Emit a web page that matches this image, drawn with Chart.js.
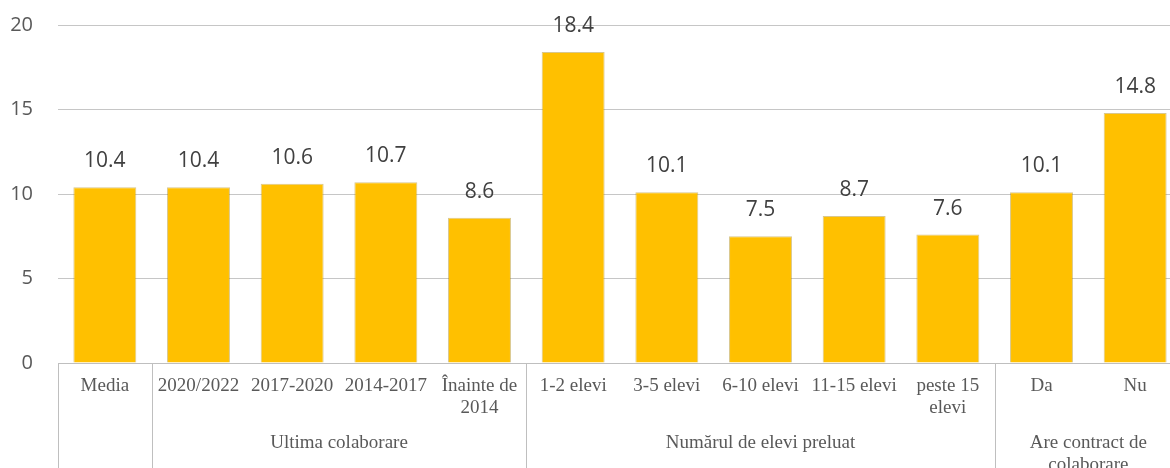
<!DOCTYPE html>
<html>
<head>
<meta charset="utf-8">
<script src="https://cdn.jsdelivr.net/npm/chart.js@4.4.0/dist/chart.umd.min.js"></script>
<style>
html,body{margin:0;padding:0;background:#fff;overflow:hidden;}
#wrap{position:relative;width:1190px;height:468px;}
</style>
</head>
<body>
<div id="wrap"><canvas id="c" width="1190" height="468"></canvas></div>
<script>
const categories = ['Media','2020/2022','2017-2020','2014-2017',['Înainte de','2014'],'1-2 elevi','3-5 elevi','6-10 elevi','11-15 elevi',['peste 15','elevi'],'Da','Nu'];
const values = [10.4, 10.4, 10.6, 10.7, 8.6, 18.4, 10.1, 7.5, 8.7, 7.6, 10.1, 14.8];
const groups = [
  {label: [], start: 0, end: 0},
  {label: ['Ultima colaborare'], start: 1, end: 4},
  {label: ['Numărul de elevi preluat'], start: 5, end: 9},
  {label: ['Are contract de','colaborare'], start: 10, end: 11}
];
const yTicks = [0, 5, 10, 15, 20];

const serif = '"Liberation Serif", "Times New Roman", serif';
const sans = '"Open Sans", "Noto Sans", sans-serif';

const groupPlugin = {
  id: 'groups',
  afterDraw(chart) {
    const ctx = chart.ctx;
    const x = chart.scales.x;
    const area = chart.chartArea;
    const half = (x.getPixelForValue(1) - x.getPixelForValue(0)) / 2;
    ctx.save();
    ctx.strokeStyle = '#bfbfbf';
    ctx.lineWidth = 1;
    groups.forEach(g => {
      const bx = Math.round(x.getPixelForValue(g.start) - half) + 0.5;
      ctx.beginPath();
      ctx.moveTo(bx, area.bottom);
      ctx.lineTo(bx, chart.height);
      ctx.stroke();
    });
    ctx.fillStyle = '#595959';
    ctx.font = '19px ' + serif;
    ctx.textAlign = 'center';
    ctx.textBaseline = 'middle';
    groups.forEach(g => {
      const l = x.getPixelForValue(g.start) - half;
      const r = x.getPixelForValue(g.end) + half;
      const cx = (l + r) / 2;
      g.label.forEach((t, i) => {
        ctx.fillText(t, cx, 443 + i * 22);
      });
    });
    ctx.restore();
  }
};

const dataLabelPlugin = {
  id: 'dlabels',
  afterDatasetsDraw(chart) {
    const ctx = chart.ctx;
    const meta = chart.getDatasetMeta(0);
    ctx.save();
    ctx.fillStyle = '#404040';
    ctx.font = '21px ' + sans;
    ctx.textAlign = 'center';
    ctx.textBaseline = 'middle';
    meta.data.forEach((bar, i) => {
      ctx.fillText(values[i].toFixed(1), bar.x, bar.y - 26);
    });
    ctx.restore();
  }
};

new Chart(document.getElementById('c'), {
  type: 'bar',
  data: {
    labels: categories,
    datasets: [{
      data: values,
      backgroundColor: '#FFC000',
      borderColor: 'rgba(170,130,0,0.45)',
      borderWidth: 1,
      barPercentage: 0.672,
      categoryPercentage: 1
    }]
  },
  options: {
    responsive: false,
    animation: false,
    events: [],
    layout: { padding: { top: 25, right: 8, left: 0, bottom: 0 } },
    plugins: { legend: { display: false }, tooltip: { enabled: false } },
    scales: {
      x: {
        grid: { display: false, drawTicks: false },
        border: { display: true, color: '#bfbfbf' },
        ticks: {
          autoSkip: false, maxRotation: 0, minRotation: 0,
          color: '#595959',
          font: { family: serif, size: 19, lineHeight: 1.16 },
          padding: 12
        },
        afterFit(s) { s.height = 105; s.paddingLeft = 0; s.paddingRight = 0; }
      },
      y: {
        min: 0, max: 20,
        afterBuildTicks(s) { s.ticks = yTicks.map(v => ({ value: v })); },
        grid: { color: '#c6c6c6', drawTicks: false },
        border: { display: false },
        ticks: {
          color: '#595959',
          font: { family: sans, size: 20 },
          padding: 25
        },
        afterFit(s) { s.width = 58; s.paddingTop = 0; s.paddingBottom = 0; }
      }
    }
  },
  plugins: [groupPlugin, dataLabelPlugin]
});
</script>
</body>
</html>
